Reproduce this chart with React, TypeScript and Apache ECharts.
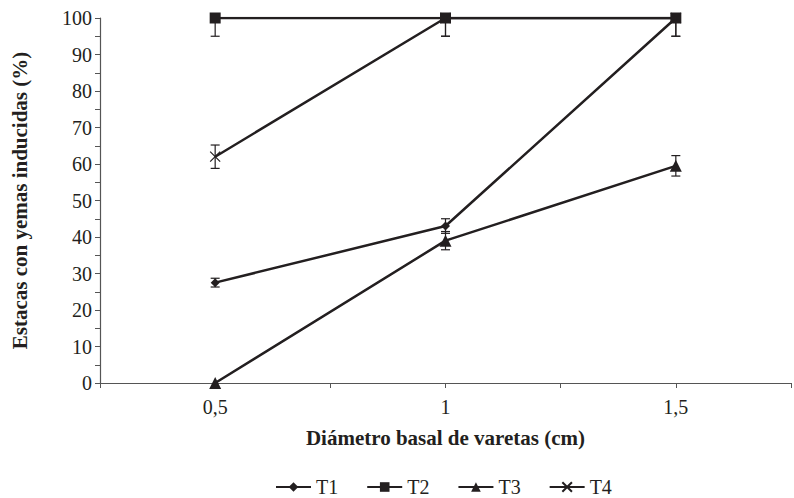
import React, { useEffect, useRef } from "react";
import * as echarts from "echarts";

const xValues = [0.5, 1, 1.5];
const seriesNames = ["T1", "T2", "T3", "T4"];
const t1 = [27.5, 43, 100];
const t2 = [100, 100, 100];
const t3 = [0, 39, 59.5];
const t4 = [62, 100, 100];
const t1Err = [1.2, 2, 0];
const t2Err = [5, 5, 5];
const t3Err = [0, 2.5, 2.8];
const t4Err = [3.2, 5, 5];
const xTickLabels: Record<string, string> = { "0.5": "0,5", "1": "1", "1.5": "1,5" };

const INK = "#231f20";
const FONT = "Liberation Serif";

const CROSS = "path://M0,0L10,10M10,0L0,10";

export default function App() {
  const ref = useRef<HTMLDivElement>(null);
  useEffect(() => {
    if (!ref.current) return;
    const chart = echarts.init(ref.current, null, { renderer: "svg" });
    const allVals = [t1, t2, t3, t4];
    const allErr = [t1Err, t2Err, t3Err, t4Err];
    const symbols = ["diamond", "rect", "triangle", CROSS];
    const sizes = [9, 11, 12, 10];
    const lineSeries = seriesNames.map((name, i) => ({
      name,
      type: "line",
      data: xValues.map((x, j) => [x, allVals[i][j]]),
      symbol: symbols[i],
      symbolSize: sizes[i],
      showSymbol: true,
      lineStyle: { color: INK, width: 2.5 },
      itemStyle:
        i === 3
          ? { color: "transparent", borderColor: INK, borderWidth: 1.2 }
          : { color: INK, borderWidth: 0 },
      z: 3,
    }));
    const errData: number[][] = [];
    allVals.forEach((vals, i) => {
      vals.forEach((v, j) => {
        if (allErr[i][j] > 0) errData.push([xValues[j], v - allErr[i][j], v + allErr[i][j]]);
      });
    });
    const errSeries = {
      type: "custom",
      clip: true,
      data: errData,
      z: 2,
      renderItem: (params: any, api: any) => {
        const x = api.value(0);
        const lo = api.coord([x, api.value(1)]);
        const hi = api.coord([x, api.value(2)]);
        const w = 4.5;
        const style = { stroke: INK, lineWidth: 1.2 };
        return {
          type: "group",
          children: [
            { type: "line", shape: { x1: lo[0], y1: lo[1], x2: hi[0], y2: hi[1] }, style },
            { type: "line", shape: { x1: lo[0] - w, y1: lo[1], x2: lo[0] + w, y2: lo[1] }, style },
            { type: "line", shape: { x1: hi[0] - w, y1: hi[1], x2: hi[0] + w, y2: hi[1] }, style },
          ],
        };
      },
    };
    chart.setOption({
      animation: false,
      backgroundColor: "#ffffff",
      textStyle: { fontFamily: FONT, color: INK },
      grid: { left: 100, right: -11, top: 18, bottom: 115, containLabel: false },
      legend: {
        data: seriesNames,
        left: 270,
        top: 472,
        itemWidth: 35,
        itemHeight: 12,
        itemGap: 28,
        textStyle: { fontFamily: FONT, fontSize: 20, color: INK },
      },
      xAxis: {
        type: "value",
        min: 0.25,
        max: 1.75,
        interval: 0.25,
        name: "Diámetro basal de varetas (cm)",
        nameLocation: "middle",
        nameGap: 44,
        nameTextStyle: { fontFamily: FONT, fontSize: 21, fontWeight: "bold", color: INK },
        axisLine: { show: true, onZero: false, lineStyle: { color: "#555", width: 1.2 } },
        axisTick: { show: true, inside: false, length: 5, lineStyle: { color: "#555" } },
        axisLabel: {
          fontFamily: FONT,
          fontSize: 20,
          color: INK,
          margin: 14,
          formatter: (v: number) => xTickLabels[String(v)] ?? "",
        },
        splitLine: { show: false },
      },
      yAxis: {
        type: "value",
        min: 0,
        max: 100,
        interval: 5,
        name: "Estacas con yemas inducidas (%)",
        nameLocation: "middle",
        nameGap: 70,
        nameTextStyle: { fontFamily: FONT, fontSize: 21, fontWeight: "bold", color: INK },
        axisLine: { show: true, lineStyle: { color: "#555", width: 1.2 } },
        axisTick: { show: true, inside: false, length: 5, lineStyle: { color: "#555" } },
        axisLabel: {
          fontFamily: FONT,
          fontSize: 20,
          color: INK,
          margin: 8,
          formatter: (v: number) => (v % 10 === 0 ? String(v) : ""),
        },
        splitLine: { show: false },
      },
      series: [...lineSeries, errSeries],
    });
    return () => chart.dispose();
  }, []);
  return (
    <div
      ref={ref}
      style={{ position: "fixed", left: 0, top: 0, width: 794, height: 498, background: "#fff" }}
    />
  );
}
